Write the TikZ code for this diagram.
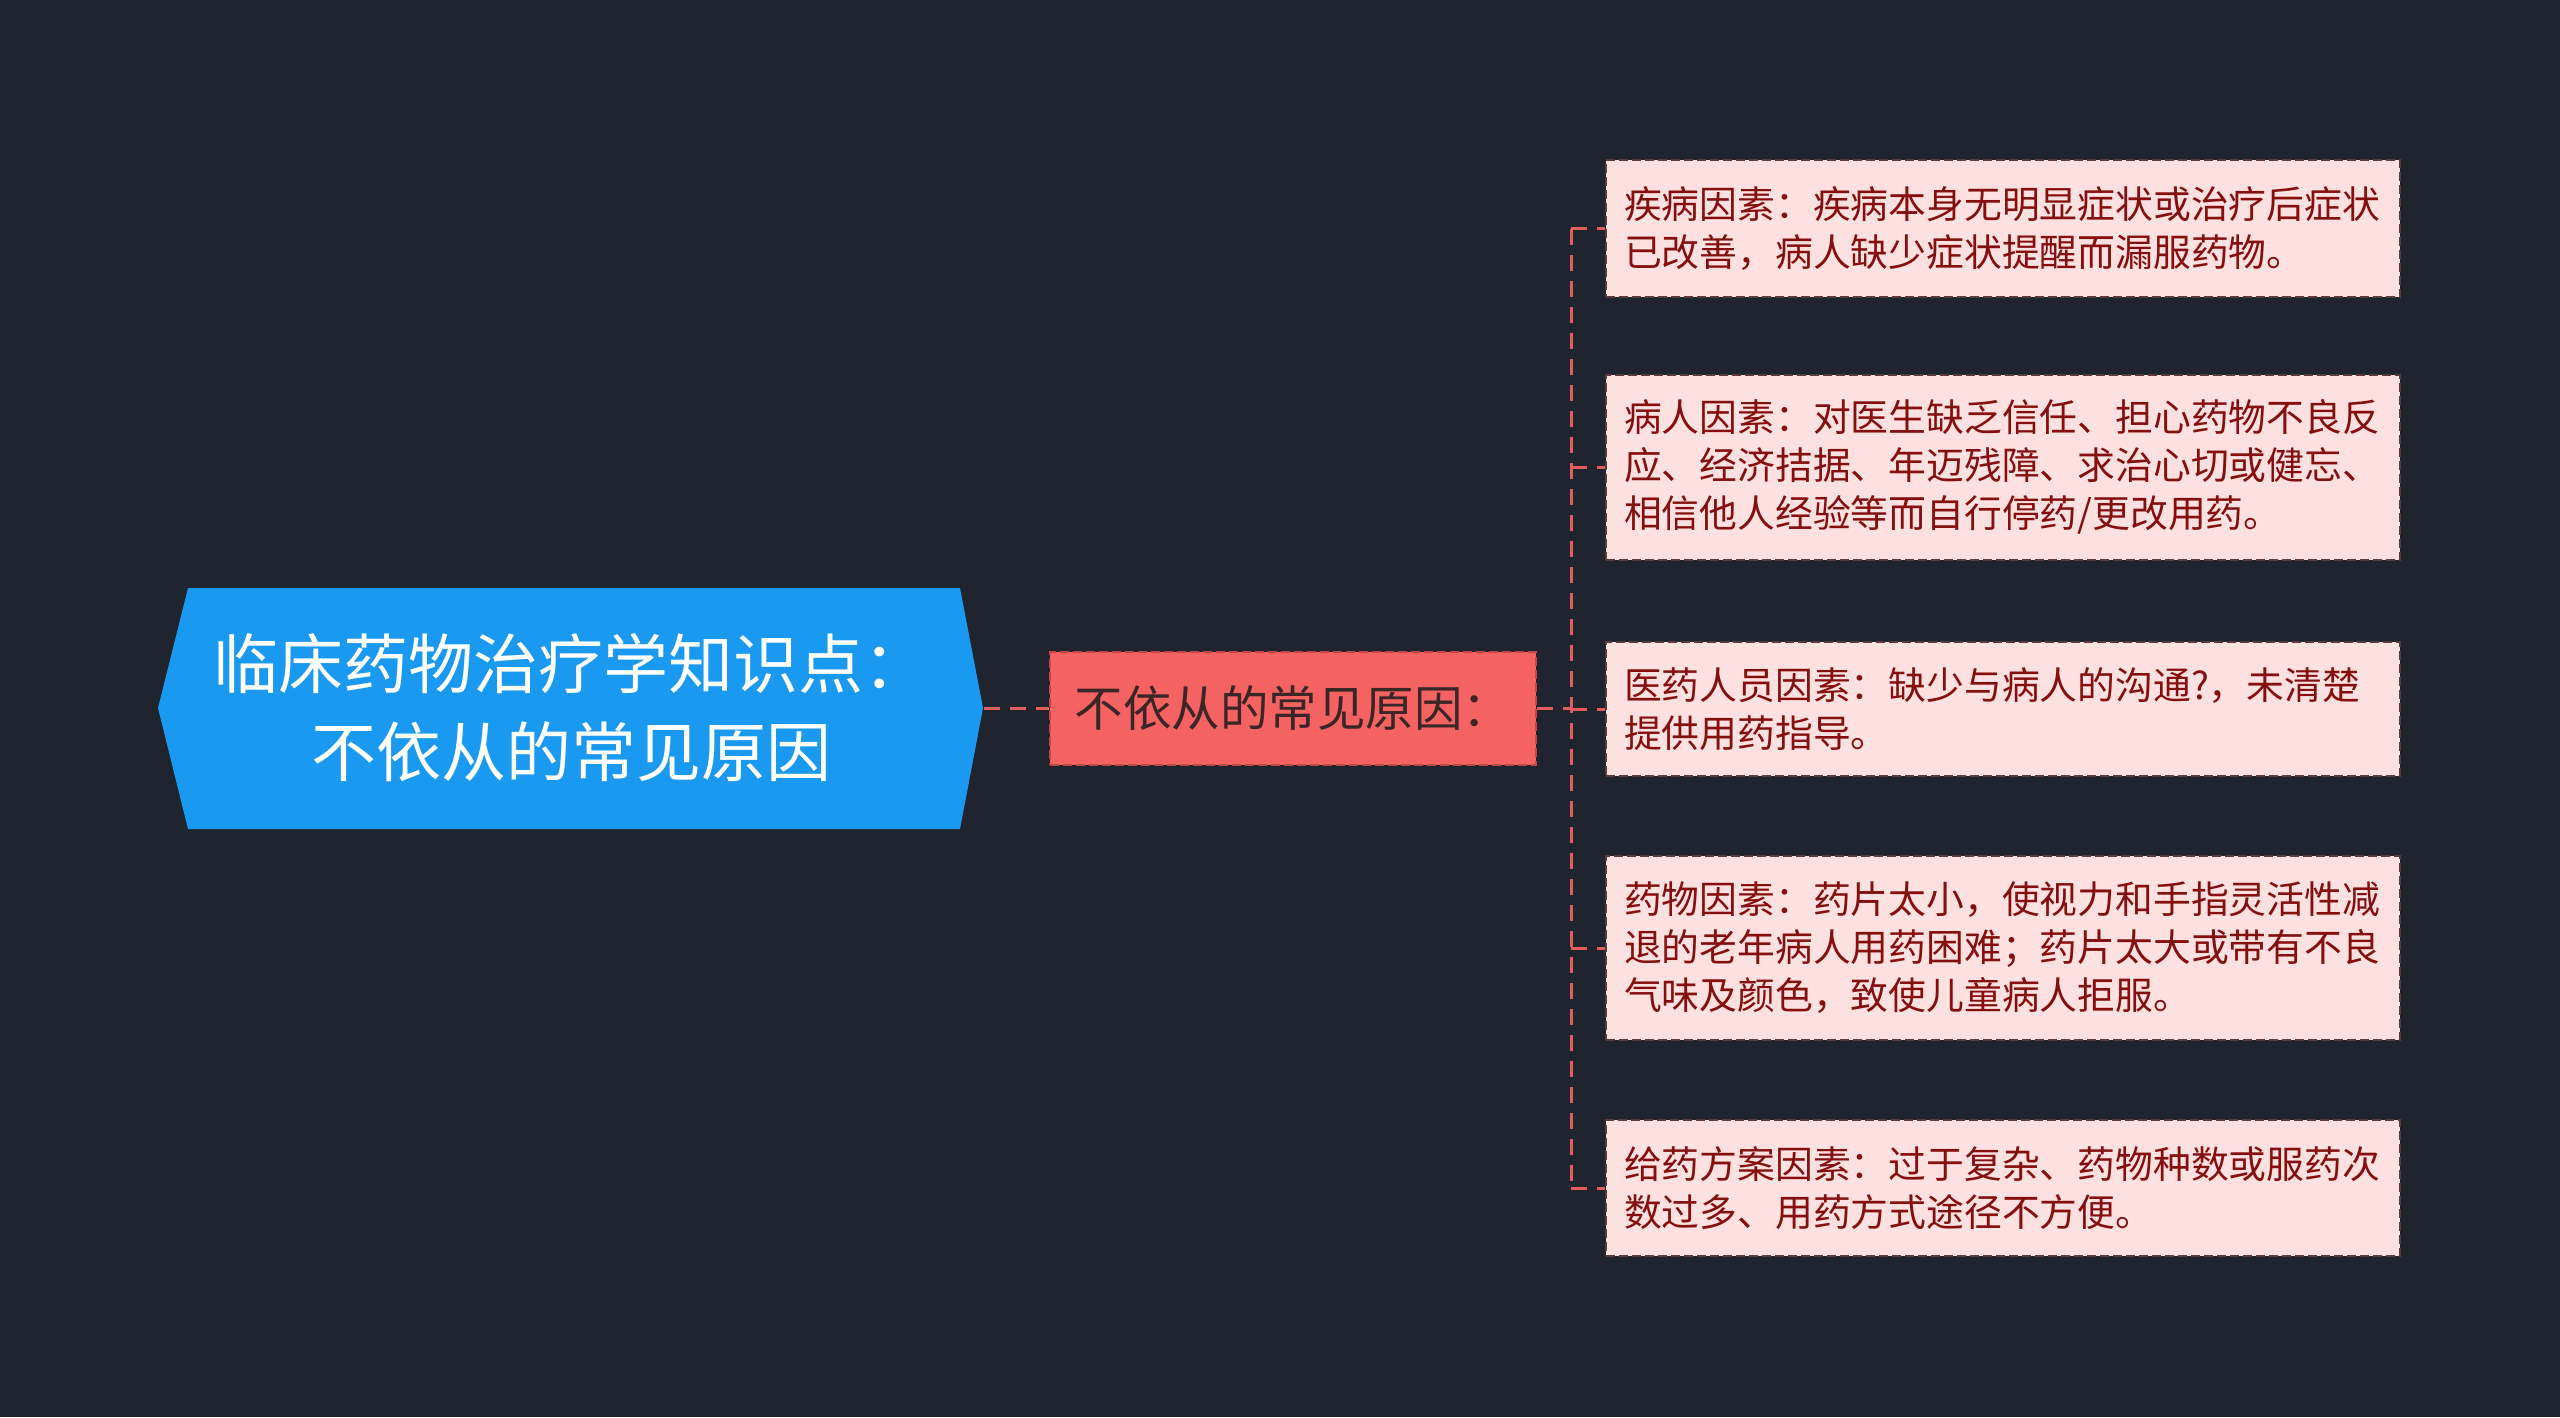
\documentclass[tikz,border=0pt]{standalone}
\usepackage{fontspec}
\newfontfamily\cjk{Noto Sans CJK SC}
\definecolor{bgc}{HTML}{20242F}
\definecolor{rootc}{HTML}{1A99F0}
\definecolor{midc}{HTML}{F56262}
\definecolor{midborder}{HTML}{C24848}
\definecolor{midtext}{HTML}{3A2626}
\definecolor{leaffill}{HTML}{FDE1E1}
\definecolor{leafborder}{HTML}{5A3A3A}
\definecolor{leaftext}{HTML}{850F0F}
\definecolor{connc}{HTML}{E25E5E}
\tikzset{
  conn/.style={draw=connc, line width=3pt, dash pattern=on 16pt off 10pt},
  leafbox/.style={draw=leafborder, fill=leaffill, line width=2pt, dash pattern=on 9pt off 4pt,
    anchor=west, text width=758pt, inner xsep=18pt, align=left, text=leaftext,
    font=\cjk\fontsize{37.8}{48}\selectfont},
  midbox/.style={draw=midborder, fill=midc, line width=2pt, dash pattern=on 9pt off 4pt,
    minimum width=486pt, minimum height=113pt, text=midtext, font=\cjk\fontsize{48.5}{56}\selectfont},
  rootbox/.style={minimum width=825pt, minimum height=241pt, text=white, align=center,
    font=\cjk\fontsize{65}{88}\selectfont}
}
\begin{document}
\begin{tikzpicture}[x=1pt,y=-1pt]
\fill[bgc] (0,0) rectangle (2560,1417);
\useasboundingbox (0,0) rectangle (2560,1417);
% root shape
\fill[rootc] (158,708) -- (188,588) -- (960,588) -- (983,708) -- (960,829) -- (188,829) -- cycle;
\node[rootbox] (root) at (571,708) {临床药物治疗学知识点：\\不依从的常见原因};
\node[midbox] (mid) at (1293,708) {不依从的常见原因：};
\node[leafbox, minimum height=137pt] (l1) at (1605,228.5) {疾病因素：疾病本身无明显症状或治疗后症状\\已改善，病人缺少症状提醒而漏服药物。};
\node[leafbox, minimum height=185pt] (l2) at (1605,467) {病人因素：对医生缺乏信任、担心药物不良反\\应、经济拮据、年迈残障、求治心切或健忘、\\相信他人经验等而自行停药/更改用药。};
\node[leafbox, minimum height=134pt] (l3) at (1605,709) {医药人员因素：缺少与病人的沟通?，未清楚\\提供用药指导。};
\node[leafbox, minimum height=184pt] (l4) at (1605,948) {药物因素：药片太小，使视力和手指灵活性减\\退的老年病人用药困难；药片太大或带有不良\\气味及颜色，致使儿童病人拒服。};
\node[leafbox, minimum height=136pt] (l5) at (1605,1188) {给药方案因素：过于复杂、药物种数或服药次\\数过多、用药方式途径不方便。};
\coordinate (j) at (1571,708);
\draw[conn] (root.east) -- (mid.west);
\draw[conn] (mid.east) -- (j);
\draw[conn] (j |- l1.west) -- (j |- l5.west);
\foreach \n in {l1,l2,l3,l4,l5} {
  \draw[conn] (j |- \n.west) -- (\n.west);
}
\end{tikzpicture}
\end{document}
